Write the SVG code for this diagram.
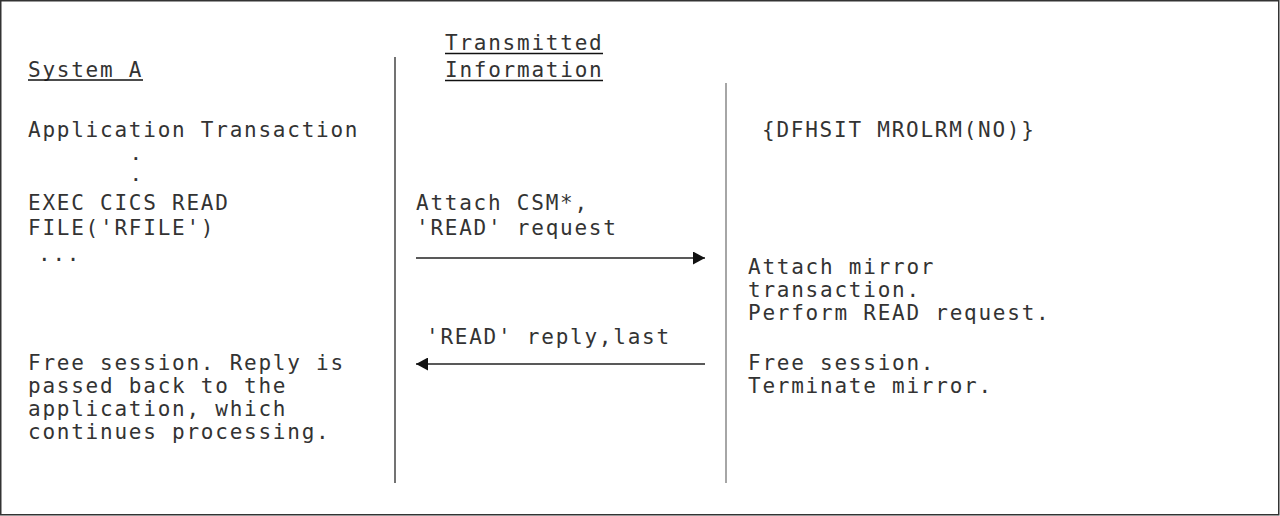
<svg xmlns="http://www.w3.org/2000/svg" width="1280" height="516" viewBox="0 0 1280 516">
<style>
  text { font-family: "DejaVu Sans Mono", "Liberation Mono", monospace; font-size: 21px; letter-spacing: 1.76px; fill: #333; }
  text.dot { font-size: 16px; letter-spacing: 0; font-weight: bold; }
  .ul { stroke: #111; stroke-width: 1.6; }
  .conn { stroke: #222; stroke-width: 1.3; fill: none; }
</style>
<defs>
  <marker id="ah" viewBox="0 0 12 13" refX="12" refY="6.5" markerWidth="12" markerHeight="13" markerUnits="userSpaceOnUse" orient="auto">
    <path d="M0,0 L12,6.5 L0,13 Z" fill="#111"/>
  </marker>
</defs>
<rect x="0.75" y="0.75" width="1278" height="514" fill="#fff" stroke="#333" stroke-width="1.5"/>
<g id="dividers">
  <line x1="395" y1="57" x2="395" y2="483" stroke="#444" stroke-width="1.5"/>
  <line x1="726" y1="83" x2="726" y2="483" stroke="#888" stroke-width="1.5"/>
</g>
<g id="systemA">
  <text x="28" y="77">System A</text>
  <line class="ul" x1="28" y1="80" x2="143" y2="80"/>
  <text x="28" y="137">Application Transaction</text>
  <text class="dot" x="131" y="160">.</text>
  <text class="dot" x="131" y="181">.</text>
  <text x="28" y="210">EXEC CICS READ</text>
  <text x="28" y="235">FILE('RFILE')</text>
  <text x="38" y="261">...</text>
  <text x="28" y="370">Free session. Reply is</text>
  <text x="28" y="393">passed back to the</text>
  <text x="28" y="416">application, which</text>
  <text x="28" y="439">continues processing.</text>
</g>
<g id="transmitted">
  <text x="445" y="50">Transmitted</text>
  <line class="ul" x1="445" y1="53.5" x2="603" y2="53.5"/>
  <text x="445" y="77">Information</text>
  <line class="ul" x1="445" y1="80.5" x2="603" y2="80.5"/>
  <text x="416" y="210">Attach CSM*,</text>
  <text x="416" y="235">'READ' request</text>
  <text x="426" y="344">'READ' reply,last</text>
</g>
<g id="systemB">
  <text x="762" y="137">{DFHSIT MROLRM(NO)}</text>
  <text x="748" y="274">Attach mirror</text>
  <text x="748" y="297">transaction.</text>
  <text x="748" y="320">Perform READ request.</text>
  <text x="748" y="370">Free session.</text>
  <text x="748" y="393">Terminate mirror.</text>
</g>
<g id="connectors">
  <line class="conn" x1="416" y1="258" x2="705" y2="258" marker-end="url(#ah)"/>
  <line class="conn" x1="705" y1="364" x2="416" y2="364" marker-end="url(#ah)"/>
</g>
</svg>
